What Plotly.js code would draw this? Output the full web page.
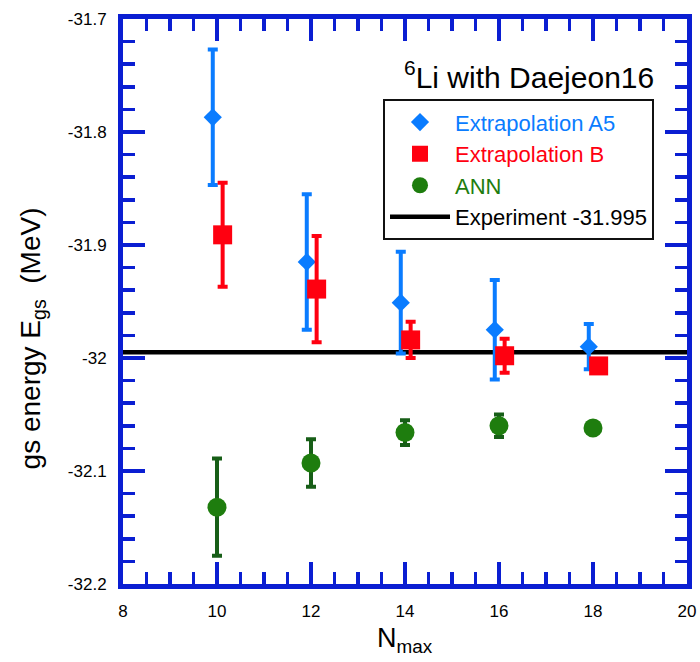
<!DOCTYPE html>
<html>
<head>
<meta charset="utf-8">
<script src="https://cdn.plot.ly/plotly-3.0.1.min.js"></script>
<style>
  html, body { margin: 0; padding: 0; background: #ffffff; }
  #chart { width: 700px; height: 662px; }
</style>
</head>
<body>
<div id="chart"></div>
<script>
// Ground-state energy of 6Li (Daejeon16) versus Nmax
const nmax = [10, 12, 14, 16, 18];

// Extrapolation A5
const a5Energy = [-31.787, -31.915, -31.951, -31.975, -31.990];
const a5Err    = [0.060, 0.060, 0.045, 0.044, 0.020];

// Extrapolation B
const bEnergy = [-31.891, -31.939, -31.984, -31.998, -32.007];
const bErr    = [0.046, 0.047, 0.016, 0.015, 0.006];

// ANN
const annEnergy = [-32.132, -32.093, -32.066, -32.060, -32.062];
const annErr    = [0.043, 0.021, 0.011, 0.010, 0.004];

// Experimental value
const expValue = -31.995;

// Axis ranges and tick labels
const xRange = [8, 20];
const yRange = [-32.2, -31.7];
const yTickVals = [-32.2, -32.1, -32.0, -31.9, -31.8, -31.7];
const yTickText = ['-32.2', '-32.1', '-32', '-31.9', '-31.8', '-31.7'];

// Horizontal dodge so overlapping series stay readable
const dodgeA5 = -0.09;
const dodgeB = 0.12;
const shift = (xs, d) => xs.map(v => v + d);

const FONT = 'Liberation Sans, Arial, Helvetica, sans-serif';
const AXIS_BLUE = '#0a1ed2';
const BLUE = '#0a7cff';
const RED = '#ff0010';
const GREEN = '#1e7d0e';
const GREEN_DARK = '#175e17';

const traces = [
  {
    x: xRange, y: xRange.map(() => expValue),
    mode: 'lines', type: 'scatter',
    name: 'Experiment -31.995',
    line: { color: '#000000', width: 4.5 },
    legendrank: 4
  },
  {
    x: shift(nmax, dodgeA5), y: a5Energy,
    mode: 'markers', type: 'scatter',
    name: '<span style="color:' + BLUE + '">Extrapolation A5</span>',
    marker: { symbol: 'diamond', size: 14, color: BLUE },
    error_y: { type: 'data', array: a5Err, visible: true, color: BLUE, thickness: 4, width: 5 },
    legendrank: 1
  },
  {
    x: shift(nmax, dodgeB), y: bEnergy,
    mode: 'markers', type: 'scatter',
    name: '<span style="color:' + RED + '">Extrapolation B</span>',
    marker: { symbol: 'square', size: 19, color: RED },
    error_y: { type: 'data', array: bErr, visible: true, color: RED, thickness: 4, width: 5 },
    legendrank: 2
  },
  {
    x: nmax, y: annEnergy,
    mode: 'markers', type: 'scatter',
    name: '<span style="color:' + GREEN + '">ANN</span>',
    marker: { symbol: 'circle', size: 19, color: GREEN },
    error_y: { type: 'data', array: annErr, visible: true, color: GREEN_DARK, thickness: 4, width: 5 },
    legendrank: 3
  }
];

const axisCommon = {
  showline: true, linewidth: 5, linecolor: AXIS_BLUE,
  mirror: 'allticks', ticks: 'inside', ticklen: 22, tickwidth: 3.5, tickcolor: AXIS_BLUE,
  showgrid: false, zeroline: false,
  tickfont: { family: FONT, size: 17, color: '#000000' }
};

const layout = {
  width: 700, height: 662,
  margin: { l: 123, r: 13, t: 19, b: 78 },
  paper_bgcolor: '#ffffff', plot_bgcolor: '#ffffff',
  font: { family: FONT, color: '#000000' },
  showlegend: true,
  legend: {
    x: 0.461, y: 0.858, xanchor: 'left', yanchor: 'top',
    bgcolor: '#ffffff', bordercolor: '#111111', borderwidth: 2,
    font: { family: FONT, size: 22, color: '#000000' },
    itemwidth: 60, tracegroupgap: 0
  },
  xaxis: Object.assign({}, axisCommon, {
    range: xRange, tickmode: 'linear', tick0: 8, dtick: 2,
    minor: { tickmode: 'linear', tick0: 8, dtick: 0.5, ticks: 'inside', ticklen: 12, tickwidth: 3.5, tickcolor: AXIS_BLUE, showgrid: false },
    ticklabelstandoff: 8
  }),
  yaxis: Object.assign({}, axisCommon, {
    range: yRange, tickmode: 'array', tickvals: yTickVals, ticktext: yTickText,
    minor: { tickmode: 'linear', tick0: -32.2, dtick: 0.02, ticks: 'inside', ticklen: 12, tickwidth: 3.5, tickcolor: AXIS_BLUE, showgrid: false },
    ticklabelstandoff: 8
  }),
  annotations: [
    {
      text: '<sup>6</sup>Li with Daejeon16',
      xref: 'paper', yref: 'paper', x: 0.945, y: 0.901,
      xanchor: 'right', yanchor: 'middle', showarrow: false,
      font: { family: FONT, size: 30, color: '#000000' }
    },
    {
      text: 'gs energy E<sub>gs</sub>\u00a0\u00a0(MeV)',
      xref: 'paper', yref: 'paper', x: -0.161, y: 0.435,
      xanchor: 'center', yanchor: 'middle', textangle: -90, showarrow: false,
      font: { family: FONT, size: 28, color: '#000000' }
    },
    {
      text: 'N<sub>max</sub>',
      xref: 'paper', yref: 'paper', x: 0.5, y: -0.0655,
      xanchor: 'center', yanchor: 'top', showarrow: false,
      font: { family: FONT, size: 27, color: '#000000' }
    }
  ]
};

Plotly.newPlot('chart', traces, layout, { displayModeBar: false, staticPlot: true });
</script>
</body>
</html>
